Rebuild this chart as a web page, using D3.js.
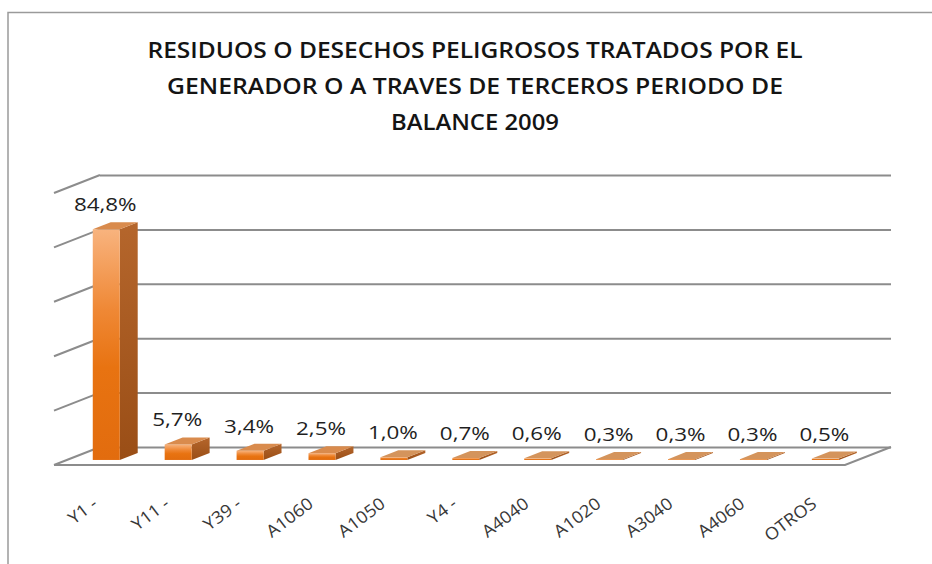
<!DOCTYPE html>
<html>
<head>
<meta charset="utf-8">
<script src="https://cdn.jsdelivr.net/npm/d3@7"></script>
<style>
  body { margin: 0; background: #fff; }
  svg { display: block; }
</style>
</head>
<body>
<div id="chart"></div>
<script>
// data
const categories = ["Y1 -", "Y11 -", "Y39 -", "A1060", "A1050", "Y4 -", "A4040", "A1020", "A3040", "A4060", "OTROS"];
const values = [84.8, 5.7, 3.4, 2.5, 1.0, 0.7, 0.6, 0.3, 0.3, 0.3, 0.5];
const yTicks = [0, 20, 40, 60, 80, 100];
const titleLines = [
  "RESIDUOS O DESECHOS PELIGROSOS TRATADOS POR EL",
  "GENERADOR O A TRAVES DE TERCEROS PERIODO DE",
  "BALANCE 2009"
];
const titleWidths = [655, 616, 168];

const W = 932, H = 564;

// depth of the 3d box: back wall -> front edge
const DX = -46, DY = 18;
const dFront = 0.72, dBack = 0.33;

const svg = d3.select("#chart").append("svg")
  .attr("width", W)
  .attr("height", H);

const defs = svg.append("defs");

const front = defs.append("linearGradient").attr("id", "gFront")
  .attr("x1", 0).attr("y1", 0).attr("x2", 0).attr("y2", 1);
front.append("stop").attr("offset", "0%").attr("stop-color", "#f8b37e");
front.append("stop").attr("offset", "35%").attr("stop-color", "#ef8835");
front.append("stop").attr("offset", "60%").attr("stop-color", "#e87311");
front.append("stop").attr("offset", "100%").attr("stop-color", "#e26c0e");

const side = defs.append("linearGradient").attr("id", "gSide")
  .attr("x1", 0).attr("y1", 0).attr("x2", 0).attr("y2", 1);
side.append("stop").attr("offset", "0%").attr("stop-color", "#b5662c");
side.append("stop").attr("offset", "100%").attr("stop-color", "#9a4e16");

// chart border (left and top edges are in view)
svg.append("path")
  .attr("d", `M8,${H} L8,12.5 L${W},12.5`)
  .attr("fill", "none")
  .attr("stroke", "#9a9a9a")
  .attr("stroke-width", 1.5);

// title
svg.append("g").selectAll("text")
  .data(titleLines)
  .enter()
  .append("text")
  .attr("x", 475)
  .attr("y", (d, i) => 58 + i * 36)
  .attr("text-anchor", "middle")
  .attr("textLength", (d, i) => titleWidths[i])
  .attr("lengthAdjust", "spacingAndGlyphs")
  .style("font-family", "'Open Sans', sans-serif")
  .style("font-weight", "600")
  .style("font-size", "22px")
  .style("fill", "#141414")
  .text(d => d);

// scales
const x = d3.scaleBand()
  .domain(categories)
  .range([100, 891]);

const y = d3.scaleLinear()
  .domain([0, 100])
  .range([447, 175]);

const barW = 27;
const barOff = x.bandwidth() * 0.36;

// back wall gridlines
const grid = svg.append("g")
  .attr("transform", "translate(100,0)")
  .call(d3.axisRight(y).tickValues(yTicks).tickSize(791).tickFormat(""));
grid.select(".domain").remove();
grid.selectAll("line")
  .attr("stroke", "#8c8c8c")
  .attr("stroke-width", 2);

// side wall diagonals
svg.append("g").selectAll("line")
  .data(yTicks)
  .enter()
  .append("line")
  .attr("x1", 100).attr("y1", d => y(d))
  .attr("x2", 100 + DX).attr("y2", d => y(d) + DY)
  .attr("stroke", "#8c8c8c")
  .attr("stroke-width", 2);

// floor front edge
const x0 = x.range()[0], x1 = x.range()[1], y0 = y(0);
svg.append("path")
  .attr("d", `M${x0 + DX},${y0 + DY} L${x1 + DX},${y0 + DY} L${x1},${y0}`)
  .attr("fill", "none")
  .attr("stroke", "#8c8c8c")
  .attr("stroke-width", 2);

const fmt = d3.formatLocale({ decimal: ",", thousands: ".", grouping: [3], currency: ["", ""] }).format(".1f");

const data = categories.map((c, i) => ({ cat: c, val: values[i] }));

// bars
const bars = svg.append("g").selectAll("g")
  .data(data)
  .enter()
  .append("g");

function pt(px, py, d) { return [px + DX * d, py + DY * d]; }

bars.append("path")   // side face
  .attr("d", d => {
    const xr = x(d.cat) + barOff + barW, yt = y(d.val);
    return "M" + [pt(xr, yt, dFront), pt(xr, y0, dFront), pt(xr, y0, dBack), pt(xr, yt, dBack)].join("L") + "Z";
  })
  .attr("fill", "url(#gSide)");

bars.append("rect")   // front face
  .attr("x", d => x(d.cat) + barOff + DX * dFront)
  .attr("y", d => y(d.val) + DY * dFront)
  .attr("width", barW)
  .attr("height", d => y0 - y(d.val))
  .attr("fill", "url(#gFront)");

bars.append("path")   // top face
  .attr("d", d => {
    const xl = x(d.cat) + barOff, xr = xl + barW, yt = y(d.val);
    return "M" + [pt(xl, yt, dFront), pt(xr, yt, dFront), pt(xr, yt, dBack), pt(xl, yt, dBack)].join("L") + "Z";
  })
  .attr("fill", d => d.val > 2 ? "#d98b4d" : "#d4945c");

// value labels
svg.append("g").selectAll("text")
  .data(data)
  .enter()
  .append("text")
  .attr("transform", d => {
    const cx = x(d.cat) + barOff + DX * dFront + barW / 2 - 1;
    const by = y(d.val) + DY * dBack - 11;
    return `translate(${cx},${by}) scale(1.18,1)`;
  })
  .attr("text-anchor", "middle")
  .style("font-family", "'Open Sans', sans-serif")
  .style("font-size", "19px")
  .style("fill", "#1f1f1f")
  .text(d => fmt(d.val) + "%");

// category labels
svg.append("g").selectAll("text")
  .data(categories)
  .enter()
  .append("text")
  .attr("transform", d => {
    const ex = x(d) + barOff + DX * dFront + 6;
    return `translate(${ex},506) rotate(-37) scale(1.08,1)`;
  })
  .attr("text-anchor", "end")
  .style("font-family", "'Open Sans', sans-serif")
  .style("font-size", "17px")
  .style("fill", "#383838")
  .text(d => d);
</script>
</body>
</html>
